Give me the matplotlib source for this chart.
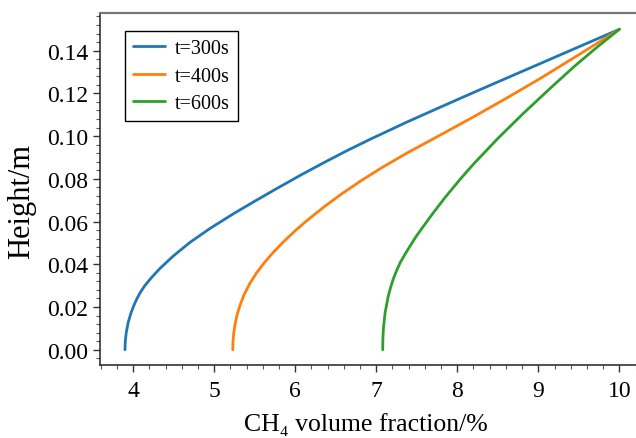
import matplotlib
matplotlib.use("Agg")
import matplotlib.pyplot as plt
from matplotlib.ticker import MultipleLocator, FormatStrFormatter

plt.rcParams['font.family'] = ['Liberation Serif', 'DejaVu Serif']

labels = ["t=300s", "t=400s", "t=600s"]
colors = ["#1f77b4", "#ff7f0e", "#2ca02c"]

x300 = [3.900, 3.904, 3.9156, 3.94, 3.972, 4.007, 4.046, 4.09, 4.143, 4.223, 4.33, 4.50, 4.70, 4.95,
        5.24, 5.50, 5.77, 6.08, 6.39, 6.65, 6.93, 7.38, 7.80, 8.20, 8.60, 9.02, 9.50, 10.00]
y300 = [0.000, 0.004, 0.008, 0.0128, 0.017, 0.0205, 0.0238, 0.0269, 0.0299, 0.0336, 0.0380, 0.0440,
        0.0502, 0.0568, 0.0637, 0.0695, 0.0754, 0.0820, 0.0883, 0.0934, 0.0986, 0.1066, 0.1137,
        0.1204, 0.1270, 0.1339, 0.1418, 0.1500]

x400 = [5.230, 5.2332, 5.2427, 5.2585, 5.28, 5.32, 5.37, 5.44, 5.52, 5.62, 5.73, 5.86, 6.00, 6.14,
        6.35, 6.56, 6.80, 7.05, 7.38, 7.80, 8.20, 8.60, 9.02, 9.50, 10.00]
y400 = [0.000, 0.004, 0.008, 0.012, 0.0159, 0.0209, 0.0258, 0.0310, 0.0358, 0.0408, 0.0456, 0.0507,
        0.0557, 0.0603, 0.0667, 0.0726, 0.0788, 0.0848, 0.0921, 0.1007, 0.1090, 0.1176, 0.1269,
        0.1381, 0.1500]

x600 = [7.080, 7.082, 7.0887, 7.11, 7.148, 7.176, 7.21, 7.2506, 7.2987, 7.36, 7.42, 7.483, 7.55,
        7.70, 7.85, 8.04, 8.20, 8.50, 8.82, 9.13, 9.44, 9.72, 10.00]
y600 = [0.000, 0.005, 0.010, 0.0175, 0.025, 0.029, 0.0331, 0.037, 0.041, 0.045, 0.0487, 0.0525,
        0.0561, 0.0639, 0.0713, 0.0800, 0.0869, 0.0989, 0.1108, 0.1218, 0.1325, 0.1415, 0.1500]

fig = plt.figure(figsize=(6.36, 4.39), dpi=100)
ax = fig.add_axes([0.157, 0.166, 0.85, 0.802])

for xs, ys, lab, c in zip([x300, x400, x600], [y300, y400, y600], labels, colors):
    ax.plot(xs, ys, color=c, lw=2.0, label=lab, solid_capstyle='round', solid_joinstyle='round')

ax.set_xlim(3.59, 10.26)
ax.set_ylim(-0.0072, 0.1576)
ax.xaxis.set_major_locator(MultipleLocator(1))
ax.xaxis.set_minor_locator(MultipleLocator(0.2))
ax.yaxis.set_major_locator(MultipleLocator(0.02))
ax.yaxis.set_minor_locator(MultipleLocator(0.004))
ax.yaxis.set_major_formatter(FormatStrFormatter('%.2f'))

ax.spines['right'].set_visible(False)
ax.spines['top'].set_color('#777777')
ax.spines['top'].set_linewidth(1.6)
for s in ['left', 'bottom']:
    ax.spines[s].set_color('#333333')
    ax.spines[s].set_linewidth(1.2)

ax.tick_params(which='major', direction='out', length=5, width=1.0, colors='#333333',
               labelsize=17, labelcolor='black', top=False, right=False)
ax.tick_params(which='minor', direction='out', length=3, width=0.8, colors='#555555',
               top=False, right=False)
ax.tick_params(axis='x', which='major', pad=6)

ax.set_xlabel("CH\u2084 volume fraction/%", fontsize=18.5, va='bottom')
ax.set_ylabel("Height/m", fontsize=22)
ax.xaxis.set_label_coords(0.4926, -0.199)
ax.yaxis.set_label_coords(-0.118, 0.469)

leg = ax.legend(loc='upper left', bbox_to_anchor=(0.046, 0.949), borderaxespad=0, fontsize=14.5,
                fancybox=False, edgecolor='black', framealpha=1, handlelength=1.6,
                handletextpad=0.5, borderpad=0.4, labelspacing=0.42)
leg.get_frame().set_linewidth(1.0)

fig.savefig("out.png", dpi=100)
